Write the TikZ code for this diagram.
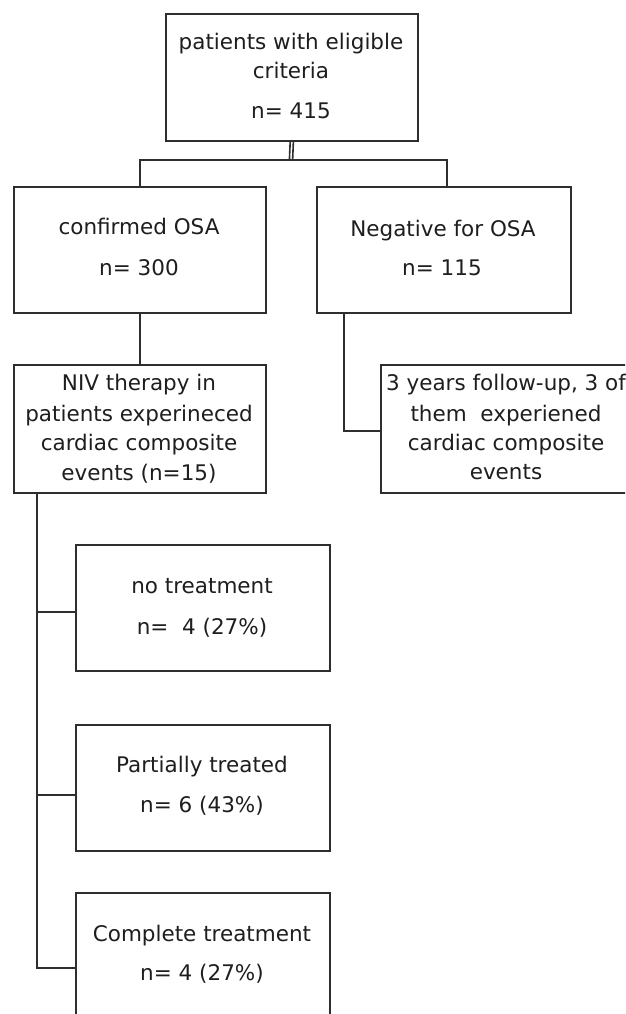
\documentclass[tikz,border=0pt]{standalone}
\usepackage{fontspec}
\setmainfont{DejaVu Sans}
\definecolor{linecol}{HTML}{2E2E2E}
\definecolor{txtcol}{HTML}{1E1E1E}
\begin{document}
\begin{tikzpicture}[x=1pt,y=-1pt,
  box/.style={draw=linecol, line width=1.6pt, minimum width=252pt, minimum height=127pt, inner sep=0pt, anchor=north west, fill=white},
  txt/.style={text=txtcol, anchor=base, inner sep=0pt, font=\fontsize{21.5}{30}\selectfont},
  conn/.style={draw=linecol, line width=1.6pt}]
\clip (0,0) rectangle (625,1014);
\fill[white] (0,0) rectangle (625,1014);
% boxes
\node[box] (top)  at (165,13) {};
\node[box, minimum height=126pt] (conf) at (13,186) {};
\node[box, minimum width=254pt, minimum height=126pt] (neg) at (316,186) {};
\node[box, minimum height=128pt] (niv) at (13,364) {};
\node[box, minimum height=128pt] (fol) at (380,364) {};
\node[box, minimum width=254pt, minimum height=126pt] (notr) at (75,544) {};
\node[box, minimum width=254pt, minimum height=126pt] (part) at (75,724) {};
\node[box, minimum width=254pt, minimum height=126pt] (comp) at (75,892) {};
% texts
\node[txt] (top1) at (291,50) {patients with eligible};
\node[txt] (top2) at (291,79) {criteria};
\node[txt] (top3) at (291,119) {n= 415};
\node[txt] (conf1) at (139,234) {confirmed OSA};
\node[txt] (conf2) at (139,275) {n= 300};
\node[txt] (neg1) at (443,236) {Negative for OSA};
\node[txt] (neg2) at (442,275) {n= 115};
\node[txt] (niv1) at (139,390) {NIV therapy in};
\node[txt] (niv2) at (139,421) {patients experineced};
\node[txt] (niv3) at (139,450) {cardiac composite};
\node[txt] (niv4) at (139,480) {events (n=15)};
\node[txt] (fol1) at (506,390) {3 years follow-up, 3 of};
\node[txt] (fol2) at (506,421) {them\ \ experiened};
\node[txt] (fol3) at (506,450) {cardiac composite};
\node[txt] (fol4) at (506,479) {events};
\node[txt] (notr1) at (202,593) {no treatment};
\node[txt] (notr2) at (202,634) {n=\ \ 4 (27\%)};
\node[txt] (part1) at (202,772) {Partially treated};
\node[txt] (part2) at (202,812) {n= 6 (43\%)};
\node[txt] (comp1) at (202,941) {Complete treatment};
\node[txt] (comp2) at (202,980) {n= 4 (27\%)};
% connectors
\coordinate (bar) at (291,160);
\draw[conn] ([xshift=-1.6pt]top.south) -- ([xshift=-1.6pt]bar);
\draw[conn] ([xshift=1.6pt]top.south) -- ([xshift=1.6pt]bar);
\draw[conn] (conf.north) |- (bar) -| ([xshift=3pt]neg.north);
\draw[conn] (conf.south) -- (niv.north);
\coordinate (negdrop) at ([xshift=-100pt]neg.south);
\draw[conn] (negdrop) |- ([yshift=-2pt]fol.west);
\coordinate (trunk) at ([xshift=24pt]niv.south west);
\path ([yshift=-4pt]notr.west) coordinate (a1);
\path ([yshift=-7pt]part.west) coordinate (a2);
\path ([yshift=-12pt]comp.west) coordinate (a3);
\draw[conn] (trunk) |- (a3);
\draw[conn] (trunk |- a1) -- (a1);
\draw[conn] (trunk |- a2) -- (a2);
\end{tikzpicture}
\end{document}
